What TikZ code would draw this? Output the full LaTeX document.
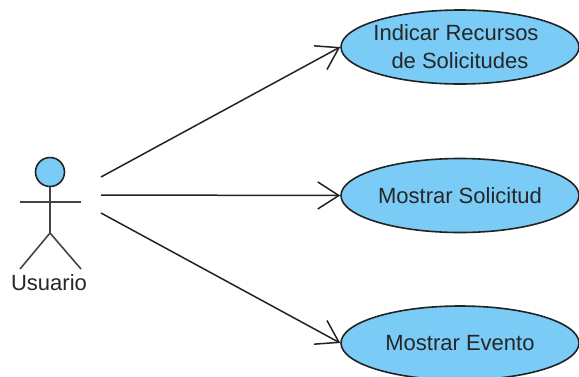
\documentclass[tikz,border=0pt]{standalone}
\usepackage{fontspec}
\setmainfont{Liberation Sans}
\usetikzlibrary{arrows.meta,shapes.geometric}
\definecolor{ucfill}{RGB}{122,203,245}
\definecolor{ink}{RGB}{35,35,35}
\tikzset{
  usecase/.style={ellipse,draw=ink,fill=ucfill,line width=1.6pt,minimum width=238pt,minimum height=74pt,inner sep=0pt,align=center,text=black!85,font=\fontsize{22}{28}\selectfont},
  stick/.style={draw=ink!85,line width=1.6pt},
  assoc/.style={draw=ink,line width=1.5pt,-{Straight Barb[length=21pt,width=27pt,line width=1.5pt]}}
}
\begin{document}
\begin{tikzpicture}[x=1pt,y=-1pt]
\useasboundingbox (0,0) rectangle (579,376);
\clip (0,0) rectangle (579,376);
\node[usecase,inner xsep=-8pt] (a) at (460,47) {Indicar Recursos\hspace*{8pt}\\de Solicitudes};
\node[usecase] (b) at (460,195.5) {Mostrar Solicitud};
\node[usecase] (c) at (460,343) {Mostrar Evento};
\node[circle,draw=ink,fill=ucfill,line width=1.6pt,minimum size=29pt,inner sep=0pt] (head) at (50,172) {};
\coordinate (hip) at (50,233);
\coordinate (armL) at (20,202);
\coordinate (armR) at (81,202);
\coordinate (legL) at (20,269);
\coordinate (legR) at (81,269);
\draw[stick] (head.south) -- (hip);
\draw[stick] (armL) -- (armR);
\draw[stick] (legL) -- (hip) -- (legR);
\node[font=\fontsize{22}{24}\selectfont,text=black!85,inner sep=0pt] (lbl) at (49,283) {Usuario};
\coordinate (o1) at (101,177);
\coordinate (o2) at (101,195);
\coordinate (o3) at (101,213);
\draw[assoc] (o1) -- (a.west);
\draw[assoc] (o2) -- (b.west);
\draw[assoc] (o3) -- (c.west);
\end{tikzpicture}
\end{document}
